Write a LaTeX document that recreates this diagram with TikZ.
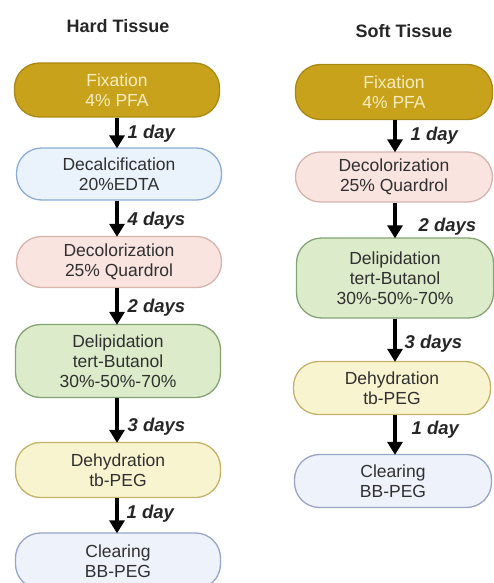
\documentclass[tikz,border=0pt]{standalone}
\usepackage{fontspec}
\setmainfont{Liberation Sans}
\usetikzlibrary{positioning,arrows.meta}

\definecolor{fixfill}{RGB}{201,162,28}
\definecolor{fixdraw}{RGB}{170,136,20}
\definecolor{fixtext}{RGB}{246,236,190}
\definecolor{calfill}{RGB}{234,242,251}
\definecolor{caldraw}{RGB}{140,172,214}
\definecolor{colfill}{RGB}{249,228,224}
\definecolor{coldraw}{RGB}{214,180,172}
\definecolor{lipfill}{RGB}{220,235,202}
\definecolor{lipdraw}{RGB}{132,164,116}
\definecolor{dehfill}{RGB}{249,244,208}
\definecolor{dehdraw}{RGB}{196,178,104}
\definecolor{clrfill}{RGB}{238,242,250}
\definecolor{clrdraw}{RGB}{152,164,200}
\definecolor{boxtext}{RGB}{48,48,48}

\begin{document}
\begin{tikzpicture}[x=1pt, y=-1pt,
      font=\fontsize{17.5}{20}\selectfont,
      box/.style={draw, line width=1.3pt, rounded corners=25pt, minimum height=#1, align=center, text=boxtext, inner sep=2pt},
      hbox/.style={box=#1, minimum width=205pt},
      sbox/.style={box=#1, minimum width=197pt},
      title/.style={font=\fontsize{18}{20}\selectfont\bfseries, text=black!85},
      lbl/.style={font=\fontsize{18.5}{20}\selectfont\bfseries\itshape, text=black!85, anchor=west, inner sep=0pt},
      arr/.style={line width=3.2pt, -{Triangle[width=15pt,length=13pt]}, shorten >=-1pt}]
    \useasboundingbox (0,0) rectangle (494,583);
    \node[title] (htitle) at (118,26) {Hard Tissue};
    \node[title] (stitle) at (404,31) {Soft Tissue};
    % hard tissue
    \node[hbox=54pt, fill=fixfill, draw=fixdraw, text=fixtext] (hfix) at (117,90) {Fixation\\4\% PFA};
    \node[hbox=52pt, fill=calfill, draw=caldraw] (hcal) at (119,174) {Decalcification\\20\%EDTA};
    \node[hbox=51pt, fill=colfill, draw=coldraw] (hcol) at (119,262) {Decolorization\\25\% Quardrol};
    \node[hbox=73pt, fill=lipfill, draw=lipdraw] (hlip) at (118,361) {Delipidation\\tert-Butanol\\30\%-50\%-70\%};
    \node[hbox=55pt, fill=dehfill, draw=dehdraw] (hdeh) at (118,470) {Dehydration\\tb-PEG};
    \node[hbox=56pt, fill=clrfill, draw=clrdraw] (hclr) at (118,561) {Clearing\\BB-PEG};
    \draw[arr] (hfix.south -| 117,0) -- node[lbl, xshift=9pt, yshift=-1pt] {1 day} (hcal.north -| 117,0);
    \draw[arr] (hcal.south -| 117,0) -- node[lbl, xshift=9pt, yshift=-2pt] {4 days} (hcol.north -| 117,0);
    \draw[arr] (hcol.south -| 117,0) -- node[lbl, xshift=9pt, yshift=-2pt] {2 days} (hlip.north -| 117,0);
    \draw[arr] (hlip.south -| 117,0) -- node[lbl, xshift=9pt, yshift=-7pt] {3 days} (hdeh.north -| 117,0);
    \draw[arr] (hdeh.south -| 117,0) -- node[lbl, xshift=8pt, yshift=2pt] {1 day} (hclr.north -| 117,0);
    % soft tissue
    \node[sbox=55pt, fill=fixfill, draw=fixdraw, text=fixtext] (sfix) at (394,92) {Fixation\\4\% PFA};
    \node[sbox=50pt, fill=colfill, draw=coldraw] (scol) at (394,177) {Decolorization\\25\% Quardrol};
    \node[sbox=80pt, fill=lipfill, draw=lipdraw] (slip) at (395,278) {Delipidation\\tert-Butanol\\30\%-50\%-70\%};
    \node[sbox=53pt, fill=dehfill, draw=dehdraw] (sdeh) at (392,388) {Dehydration\\tb-PEG};
    \node[sbox=53pt, fill=clrfill, draw=clrdraw] (sclr) at (393,481) {Clearing\\BB-PEG};
    \draw[arr] (sfix.south -| 395,0) -- node[lbl, xshift=14pt, yshift=0pt] {1 day} (scol.north -| 395,0);
    \draw[arr] (scol.south -| 395,0) -- node[lbl, xshift=22pt, yshift=-7pt] {2 days} (slip.north -| 395,0);
    \draw[arr] (slip.south -| 395,0) -- node[lbl, xshift=8pt, yshift=-4pt] {3 days} (sdeh.north -| 395,0);
    \draw[arr] (sdeh.south -| 395,0) -- node[lbl, xshift=15pt, yshift=5pt] {1 day} (sclr.north -| 395,0);
  \end{tikzpicture}
\end{document}
